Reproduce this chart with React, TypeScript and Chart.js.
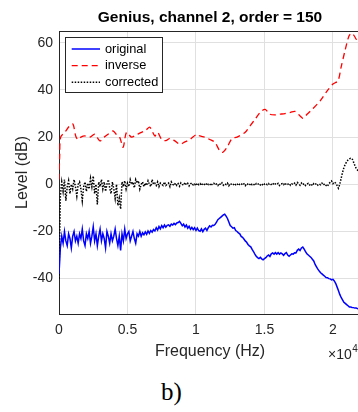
import { useEffect, useRef } from "react";
import { Chart, registerables } from "chart.js";

Chart.register(...registerables);

const FONT = "'Liberation Sans', Arial, Helvetica, sans-serif";
const AXIS = "#262626";
const GRID = "#e0e0e0";

const TITLE = "Genius, channel 2, order = 150";
const X_LABEL = "Frequency (Hz)";
const Y_LABEL = "Level (dB)";
const seriesNames = ["original", "inverse", "corrected"];

// FFT bin spacing for original / corrected (Hz)
const BIN_HZ = 100;

// original level (dB), one value per 100 Hz from 0 to 22000 Hz
const originalLevel = [
  -38, -27, -22, -25, -20, -24, -26, -21, -23, -27,
  -22, -20, -24, -22, -25, -21, -23, -19, -24, -26,
  -21, -23, -20, -25, -22, -18, -24, -21, -26, -22,
  -19, -24, -21, -23, -27, -20, -22, -25, -21, -24,
  -22, -19, -23, -26, -22, -28, -21, -24, -19, -23,
  -21, -20, -24, -22, -20, -23, -25, -21, -22, -20,
  -22, -20.6, -21.4, -20.2, -21.2, -19.8, -20.8, -19.6, -20.3, -19.2,
  -19.8, -18.4, -19.4, -17.9, -18.9, -17.5, -18.4, -17.3, -18.2, -17.4,
  -17.2, -17.8, -16.9, -17.3, -16.6, -17.1, -16.4, -16.2, -15.7, -16.6,
  -17.6, -16.9, -18.1, -17.3, -18.6, -17.8, -19.1, -18.3, -19.2, -18.4,
  -19.6, -18.6, -19.7, -19.9, -18.9, -20.1, -19.1, -18.6, -19.6, -18.4,
  -17.6, -18.1, -17.4, -17.5, -17, -16, -15, -14.5, -14, -13.5,
  -13, -12.7, -13.5, -14.5, -16, -17.5, -18, -18.6, -18.4, -19.6,
  -20, -20.6, -21, -22.1, -22.5, -23.2, -24, -24.6, -25.5, -26.1,
  -26.5, -27.6, -28.5, -29.6, -30.5, -31.1, -31.5, -31, -31.6, -32,
  -31.5, -31.1, -30.4, -30, -30.6, -29.5, -29.1, -29.6, -29, -29.6,
  -29, -29.6, -29.1, -29.5, -30.1, -29.4, -29, -30, -30.5, -30,
  -29.5, -29.6, -29, -29.1, -28, -27.5, -28.1, -27, -26.6, -27.5,
  -28.5, -29.5, -30, -30.5, -31, -31.8, -32.5, -34, -35, -36,
  -36.8, -37.5, -38, -38.5, -39, -39.5, -39.6, -40, -40.1, -40.5,
  -40.3, -41, -42, -43.5, -45, -46.7, -48, -49, -50, -50.5,
  -51, -51.5, -52, -52, -52.2, -52.3, -52.5, -52.5, -52.7, -53,
  -53,
];

// corrected level (dB), one value per 100 Hz from 0 to 22000 Hz
const correctedLevel = [
  -40, -5, 1, -3, 2, -7, -1, 1.5, -4, 0,
  -2, 2, -1, -5, 0, 1, -2, -7, -1, 1,
  -3, 0.5, -2, 2.5, -1, 3.5, -4, 0, -8.5, 1,
  -1, 2, -2, 1, -3, 0, 2, -1.5, -4, 1,
  -2, -6, 0, -9, -6, -10.5, 1, -1, 1.5, -2,
  0.5, -1, 2, 0, 1, -1.5, 2, 0.5, 1.5, -2,
  0, 1, -1, 0.5, -0.5, 1.5, 0, -1, 2, 0,
  0.5, -0.5, 1, -1, 0.5, 0, -0.5, 1, -0.5, 0,
  0.5, -1, 1, 0, -0.5, 0.5, -0.5, 0.3, -0.8, 0.6,
  0, -0.4, 0.8, -0.2, 0.4, -0.7, 0.2, 0.6, -0.3, 0.1,
  -0.6, 0.5, -0.2, 0.3, -0.5, 0.4, 0, -0.4, 0.6, -0.1,
  0.3, -0.6, 0.2, 0.5, -0.3, 0.1, -0.5, 0.4, -0.2, 0.6,
  -0.4, 0.2, -0.1, 0.5, -0.6, 0.3, 0, -0.4, 0.4, -0.2,
  0.3, -0.5, 0.1, 0.4, -0.3, 0.2, -0.6, 0.3, 0, -0.4,
  0.5, -0.2, 0.1, -0.5, 0.3, -0.1, 0.4, -0.3, 0.2, -0.5,
  0.1, 0.4, -0.2, 0.3, -0.4, 0, 0.5, -0.3, 0.2, -0.1,
  0.4, -0.5, 0.1, 0.3, -0.2, 0.6, -0.3, 0, 0.4, -0.4,
  0.2, -0.1, 0.5, -0.3, 0.8, 0.2, -0.4, 0.5, -0.2, 0.3,
  -0.5, 0.1, 0.4, -0.3, 0.2, -0.6, 0.3, -0.1, 0.4, -0.4,
  0.1, -0.2, 0.5, -0.3, 0.2, -0.5, -0.9, 0.3, 0.8, 1.4,
  0.3, 1, 0.5, -0.5, -1.7, 0, 2.5, 5, 7, 8.5,
  9.5, 10.3, 10.8, 11, 10.9, 9.5, 8, 6.7, 6, 5.5,
  5,
];

// inverse filter response: frequencies (Hz) and levels (dB)
const inverseFreq = [
  0, 50, 120, 420, 780, 1020, 1220, 1390, 1600, 1880,
  2240, 2610, 2980, 3300, 3580, 3950, 4200, 4440, 4680, 4930,
  5290, 5650, 6020, 6350, 6630, 7000, 7200, 7500, 7800, 8100,
  8460, 8820, 9200, 9550, 10060, 10280, 10650, 11010, 11380, 11750,
  11970, 12300, 12630, 13000, 13580, 13950, 14320, 14690, 15050, 15400,
  15760, 16100, 16500, 16900, 17230, 17600, 17820, 18110, 18490, 19070,
  19580, 20000, 20370, 20590, 20880, 21180, 21400, 21690, 21830, 22000,
];
const inverseLevel = [
  2, 12, 20, 22, 24.8, 25.5, 20.5, 19, 20, 20.5,
  20, 21.2, 18.4, 20, 21.2, 22.6, 21, 19.8, 15.7, 22,
  20, 21, 22, 23, 24.2, 20.5, 22, 19, 18.5, 19.5,
  18.4, 17, 18, 19, 21.2, 20.5, 20, 19, 17.8, 14.1,
  13.6, 16, 19.4, 20, 22, 24.8, 27.6, 30.5, 31.8, 29.7,
  29.4, 29.7, 30, 30.5, 30.9, 29, 28, 29.7, 31.8, 35.4,
  39.6, 42.5, 43.9, 49.5, 56.6, 63, 64, 61.6, 60, 59,
];

const X_MIN = 0;
const X_MAX = 22050;
const Y_MIN = -55;
const Y_MAX = 65;
const xTicks = [0, 5000, 10000, 15000, 20000];
const yTicks = [-40, -20, 0, 20, 40, 60];

const extrasPlugin = {
  id: "extras",
  afterDatasetsDraw(chart: any) {
    const { ctx, chartArea } = chart;
    const ds = chart.data.datasets;
    // legend box
    const bx = chartArea.left + 6;
    const by = chartArea.top + 6;
    const bw = 97;
    const bh = 55;
    ctx.save();
    ctx.fillStyle = "#ffffff";
    ctx.fillRect(bx, by, bw, bh);
    ctx.strokeStyle = AXIS;
    ctx.lineWidth = 1;
    ctx.setLineDash([]);
    ctx.strokeRect(Math.round(bx) + 0.5, Math.round(by) + 0.5, bw, bh);
    ctx.font = `12.8px ${FONT}`;
    ctx.textBaseline = "middle";
    ctx.textAlign = "left";
    ds.forEach((d: any, i: number) => {
      const yy = by + 12 + i * 16.6;
      ctx.beginPath();
      ctx.strokeStyle = d.borderColor;
      ctx.lineWidth = d.borderWidth;
      ctx.setLineDash(d.borderDash || []);
      ctx.moveTo(bx + 6.7, yy);
      ctx.lineTo(bx + 35, yy);
      ctx.stroke();
      ctx.setLineDash([]);
      ctx.fillStyle = "#000000";
      ctx.fillText(d.label, bx + 40, yy);
    });
    ctx.restore();
  },
  afterDraw(chart: any) {
    const { ctx, chartArea } = chart;
    ctx.save();
    // top box line
    ctx.strokeStyle = AXIS;
    ctx.lineWidth = 1;
    ctx.beginPath();
    ctx.moveTo(chartArea.left, Math.round(chartArea.top) + 0.5);
    ctx.lineTo(chartArea.right, Math.round(chartArea.top) + 0.5);
    ctx.stroke();
    // title centred over the axes
    ctx.fillStyle = "#000000";
    ctx.textAlign = "center";
    ctx.textBaseline = "middle";
    ctx.font = `bold 15.5px ${FONT}`;
    ctx.fillText(TITLE, (chartArea.left + chartArea.right) / 2, chartArea.top - 13.5);
    // exponent label
    ctx.fillStyle = AXIS;
    ctx.textBaseline = "middle";
    ctx.textAlign = "left";
    ctx.font = `14px ${FONT}`;
    const ex = chartArea.right - 33;
    const ey = chartArea.bottom + 41.5;
    ctx.fillText("\u00d710", ex, ey);
    const w = ctx.measureText("\u00d710").width;
    ctx.font = `10px ${FONT}`;
    ctx.fillText("4", ex + w + 0.5, ey - 6);
    ctx.restore();
  },
};

export default function App() {
  const canvasRef = useRef<HTMLCanvasElement | null>(null);

  useEffect(() => {
    if (!canvasRef.current) return;
    const originalData = originalLevel.map((v, i) => ({ x: i * BIN_HZ, y: v }));
    const correctedData = correctedLevel.map((v, i) => ({ x: i * BIN_HZ, y: v }));
    const inverseData = inverseLevel.map((v, i) => ({ x: inverseFreq[i], y: v }));

    const chart = new Chart(canvasRef.current, {
      type: "line",
      data: {
        datasets: [
          {
            label: seriesNames[0],
            data: originalData,
            borderColor: "#0000ff",
            borderWidth: 1.5,
            pointRadius: 0,
            tension: 0,
            borderDash: [],
          },
          {
            label: seriesNames[1],
            data: inverseData,
            borderColor: "#ff0000",
            borderWidth: 1.3,
            pointRadius: 0,
            tension: 0.3,
            borderDash: [6, 4],
          },
          {
            label: seriesNames[2],
            data: correctedData,
            borderColor: "#000000",
            borderWidth: 1.5,
            pointRadius: 0,
            tension: 0,
            borderDash: [1.5, 1.5],
          },
        ],
      },
      options: {
        animation: false,
        responsive: false,
        maintainAspectRatio: false,
        devicePixelRatio: 1,
        events: [],
        layout: { padding: { top: 31, left: 0, right: 0, bottom: 0 } },
        plugins: {
          legend: { display: false },
          tooltip: { enabled: false },
          title: { display: false },
        },
        scales: {
          x: {
            type: "linear",
            min: X_MIN,
            max: X_MAX,
            afterBuildTicks: (s: any) => {
              s.ticks = xTicks.map((v) => ({ value: v }));
            },
            afterFit: (s: any) => {
              s.height = 48;
            },
            ticks: {
              callback: (v: any) => String(Number(v) / 10000),
              color: AXIS,
              font: { family: FONT, size: 14 },
              padding: 8,
              maxRotation: 0,
              autoSkip: false,
            },
            grid: { color: GRID, drawTicks: false, lineWidth: 1 },
            border: { color: AXIS, width: 1 },
            title: {
              display: true,
              text: X_LABEL,
              color: AXIS,
              font: { family: FONT, size: 16 },
              padding: { top: 0, bottom: 0.5 },
            },
          },
          y: {
            type: "linear",
            min: Y_MIN,
            max: Y_MAX,
            afterBuildTicks: (s: any) => {
              s.ticks = yTicks.map((v) => ({ value: v }));
            },
            afterFit: (s: any) => {
              s.width = 59;
            },
            ticks: {
              color: AXIS,
              font: { family: FONT, size: 14 },
              padding: 6,
              autoSkip: false,
            },
            grid: { color: GRID, drawTicks: false, lineWidth: 1 },
            border: { color: AXIS, width: 1 },
            title: {
              display: true,
              text: Y_LABEL,
              color: AXIS,
              font: { family: FONT, size: 16 },
              padding: { top: 12.9, bottom: 0 },
            },
          },
        },
      },
      plugins: [extrasPlugin],
    } as any);
    return () => chart.destroy();
  }, []);

  return (
    <div
      style={{
        position: "fixed",
        left: 0,
        top: 0,
        width: 358,
        height: 412,
        overflow: "hidden",
        background: "#ffffff",
      }}
    >
      <canvas
        ref={canvasRef}
        width={361}
        height={362}
        style={{ position: "absolute", left: 0, top: 0, width: 361, height: 362 }}
      />
      <div
        style={{
          position: "absolute",
          left: 0,
          top: 377,
          width: 343,
          textAlign: "center",
          fontFamily: "'Liberation Serif', 'Times New Roman', serif",
          fontSize: 25,
          lineHeight: "30px",
          color: "#000000",
        }}
      >
        b)
      </div>
    </div>
  );
}
